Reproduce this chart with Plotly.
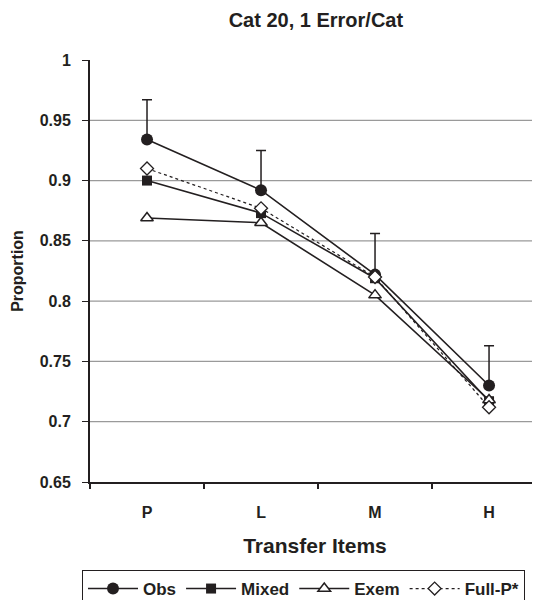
import plotly.graph_objects as go

categories = ["P", "L", "M", "H"]
obs = [0.934, 0.892, 0.822, 0.730]
obs_err = [0.033, 0.033, 0.034, 0.033]
mixed = [0.900, 0.873, 0.819, 0.717]
exem = [0.869, 0.865, 0.805, 0.718]
fullp = [0.910, 0.877, 0.820, 0.712]
y_ticks = [0.65, 0.7, 0.75, 0.8, 0.85, 0.9, 0.95, 1]
y_tick_text = ["0.65", "0.7", "0.75", "0.8", "0.85", "0.9", "0.95", "1"]

INK = "#231f20"
FONT = "Liberation Sans, Arial, sans-serif"

# page body has an 8px margin: the figure is sized / placed to compensate
W, H = 532, 592

def bold(size):
    return dict(size=size, family=FONT, color=INK, weight="bold")

fig = go.Figure()
fig.add_trace(go.Scatter(
    x=categories, y=obs, name="Obs", mode="lines+markers",
    line=dict(color=INK, width=1.6),
    marker=dict(symbol="circle", size=12, color=INK),
    error_y=dict(type="data", array=obs_err, arrayminus=[0]*len(obs_err), symmetric=False,
                 color=INK, thickness=1.5, width=5),
))
fig.add_trace(go.Scatter(
    x=categories, y=mixed, name="Mixed", mode="lines+markers",
    line=dict(color=INK, width=1.6),
    marker=dict(symbol="square", size=10, color=INK),
))
fig.add_trace(go.Scatter(
    x=categories, y=exem, name="Exem", mode="lines+markers",
    line=dict(color=INK, width=1.6),
    marker=dict(symbol="triangle-up", size=11, color="white", line=dict(color=INK, width=1.5)),
))
fig.add_trace(go.Scatter(
    x=categories, y=fullp, name="Full-P*", mode="lines+markers",
    line=dict(color=INK, width=1.2, dash="dot"),
    marker=dict(symbol="diamond", size=10, color="white", line=dict(color=INK, width=1.3)),
))

for v in y_ticks[1:-1]:
    fig.add_hline(y=v, line=dict(color="#9a9a9a", width=1.2), layer="below")

fig.update_layout(
    width=W, height=H,
    margin=dict(l=82, r=0, t=52, b=118, autoexpand=False),
    paper_bgcolor="white", plot_bgcolor="white",
    font=dict(family=FONT, color=INK, size=15),
    title=dict(text="Cat 20, 1 Error/Cat", x=0.502, xref="paper", xanchor="center",
               y=1 - 12/H, yanchor="middle", font=bold(20)),
    showlegend=True,
    legend=dict(orientation="h", xref="container", x=74/W, xanchor="left",
                yref="container", y=1 - 562/H, yanchor="top",
                bordercolor=INK, borderwidth=1, bgcolor="white",
                font=bold(17), itemwidth=50, tracegroupgap=0),
    xaxis=dict(
        type="category", range=[-0.5, 3.447], showgrid=False, automargin=False,
        showline=True, linecolor=INK, linewidth=2,
        ticks="outside", tickson="boundaries", ticklen=5, tickwidth=1.5, tickcolor=INK,
        tickfont=bold(16),
        ticklabelstandoff=15,
        title=dict(text="Transfer Items", font=bold(21), standoff=18),
    ),
    yaxis=dict(
        range=[0.65, 1], tickvals=y_ticks, ticktext=y_tick_text, automargin=False,
        showgrid=False, zeroline=False,
        showline=True, linecolor=INK, linewidth=2,
        ticks="outside", ticklen=6, tickwidth=1.2, tickcolor=INK,
        tickfont=bold(16),
        ticklabelstandoff=8,
        title=dict(text="Proportion", font=bold(16), standoff=12),
    ),
)

fig.write_html("out.html")
